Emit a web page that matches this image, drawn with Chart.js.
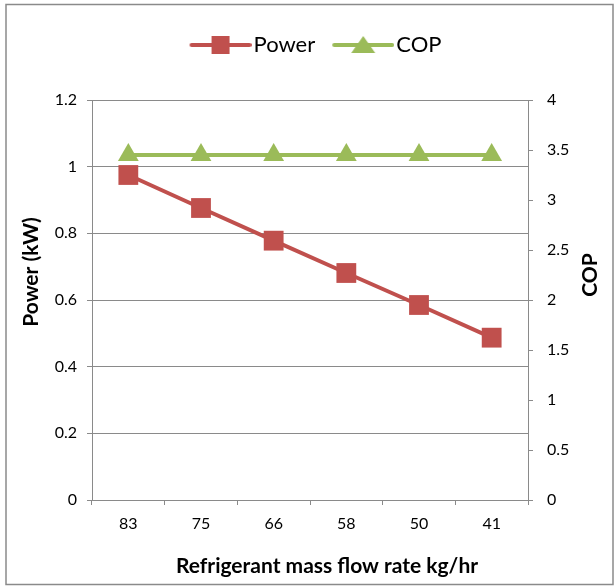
<!DOCTYPE html>
<html>
<head>
<meta charset="utf-8">
<script src="https://cdn.jsdelivr.net/npm/chart.js@4/dist/chart.umd.min.js"></script>
<style>
html,body{margin:0;padding:0;background:#fff;}
#wrap{position:relative;width:614px;height:587px;}
</style>
</head>
<body>
<div id="wrap"><canvas id="c" width="614" height="587"></canvas></div>
<script>
const categories = ['83', '75', '66', '58', '50', '41'];
const powerValues = [0.975, 0.876, 0.778, 0.681, 0.585, 0.487];
const copValues = [3.45, 3.45, 3.45, 3.45, 3.45, 3.45];
const seriesNames = ['Power', 'COP'];
const xTitle = 'Refrigerant mass flow rate kg/hr';
const yLeftTitle = 'Power (kW)';
const yRightTitle = 'COP';

const RED = '#C0504D';
const GREEN = '#9BBB59';
const GRID = '#8a8a8a';
const FONT = 'Lato';

function legendIcon(color, marker) {
  const c = document.createElement('canvas');
  c.width = 68; c.height = 24;
  const g = c.getContext('2d');
  g.strokeStyle = color; g.lineWidth = 4; g.lineCap = 'round';
  g.beginPath(); g.moveTo(8, 12); g.lineTo(66, 12); g.stroke();
  g.fillStyle = color;
  if (marker === 'rect') {
    g.fillRect(37 - 9, 12 - 9, 18, 18);
  } else {
    g.beginPath(); g.moveTo(37, 3); g.lineTo(49, 20); g.lineTo(25, 20); g.closePath(); g.fill();
  }
  return c;
}

function fmt(v) { return String(Number(Number(v).toFixed(2))); }

const titlesPlugin = {
  id: 'titles',
  afterDraw(chart) {
    const ctx = chart.ctx;
    ctx.save();
    ctx.fillStyle = '#000';
    ctx.font = 'bold 21px ' + FONT;
    ctx.textAlign = 'center';
    ctx.textBaseline = 'middle';
    ctx.fillText(xTitle, 327, 566);
    ctx.save(); ctx.translate(31, 272); ctx.rotate(-Math.PI / 2); ctx.fillText(yLeftTitle, 0, 0); ctx.restore();
    ctx.save(); ctx.translate(590, 275); ctx.rotate(-Math.PI / 2); ctx.fillText(yRightTitle, 0, 0); ctx.restore();
    ctx.strokeStyle = '#8a8a8a'; ctx.lineWidth = 1.5;
    ctx.strokeRect(6, 4.5, 607, 580);
    ctx.restore();
  }
};

const chart = new Chart(document.getElementById('c'), {
  type: 'line',
  data: {
    labels: categories,
    datasets: [
      {
        label: seriesNames[0], data: powerValues, yAxisID: 'y',
        borderColor: RED, backgroundColor: RED, borderWidth: 4,
        pointStyle: 'rect', pointRadius: 14, pointHoverRadius: 14,
        pointBorderWidth: 0, tension: 0, order: 2
      },
      {
        label: seriesNames[1], data: copValues, yAxisID: 'y2',
        borderColor: GREEN, backgroundColor: GREEN, borderWidth: 4,
        pointStyle: 'triangle', pointRadius: 12, pointHoverRadius: 12,
        pointBorderWidth: 0, tension: 0, order: 1
      }
    ]
  },
  options: {
    responsive: false,
    animation: false,
    layout: { padding: { left: 20, right: 0, top: 14, bottom: 0 } },
    plugins: {
      tooltip: { enabled: false },
      legend: {
        position: 'top',
        labels: {
          usePointStyle: true,
          pointStyleWidth: 50,
          boxHeight: 22,
          padding: 20,
          color: '#000',
          font: { family: FONT, size: 22 },
          generateLabels(chart) {
            return chart.data.datasets.map((ds, i) => ({
              text: ds.label,
              fillStyle: ds.backgroundColor,
              strokeStyle: ds.borderColor,
              lineWidth: 0,
              pointStyle: legendIcon(ds.borderColor, i === 0 ? 'rect' : 'tri'),
              datasetIndex: i,
              hidden: false,
              fontColor: '#000'
            }));
          }
        }
      }
    },
    scales: {
      x: {
        type: 'category',
        offset: true,
        grid: { offset: true, drawOnChartArea: false, drawTicks: true, tickLength: 5, color: GRID, lineWidth: 1 },
        border: { color: GRID, width: 1 },
        ticks: { color: '#000', padding: 9, font: { family: FONT, size: 16 }, maxRotation: 0 },
        afterFit(s) { s.height = 87; }
      },
      y: {
        position: 'left',
        min: 0, max: 1.2,
        ticks: { stepSize: 0.2, color: '#000', padding: 10, font: { family: FONT, size: 16 }, callback: (v) => fmt(v) },
        grid: { color: GRID, lineWidth: 1, tickLength: 5, drawTicks: true },
        border: { color: GRID, width: 1 },
        afterFit(s) { s.width = 72; }
      },
      y2: {
        position: 'right',
        min: 0, max: 4,
        ticks: { stepSize: 0.5, color: '#000', padding: 14, font: { family: FONT, size: 16 }, callback: (v) => fmt(v) },
        grid: { drawOnChartArea: false, color: GRID, lineWidth: 1, tickLength: 5, drawTicks: true },
        border: { color: GRID, width: 1 },
        afterFit(s) { s.width = 86; }
      }
    }
  },
  plugins: [titlesPlugin]
});

// add space below the legend so the plot area starts where the reference's does
const origFit = chart.legend.fit;
chart.legend.fit = function () { origFit.call(this); this.height += 34; };
chart.update();
</script>
</body>
</html>
